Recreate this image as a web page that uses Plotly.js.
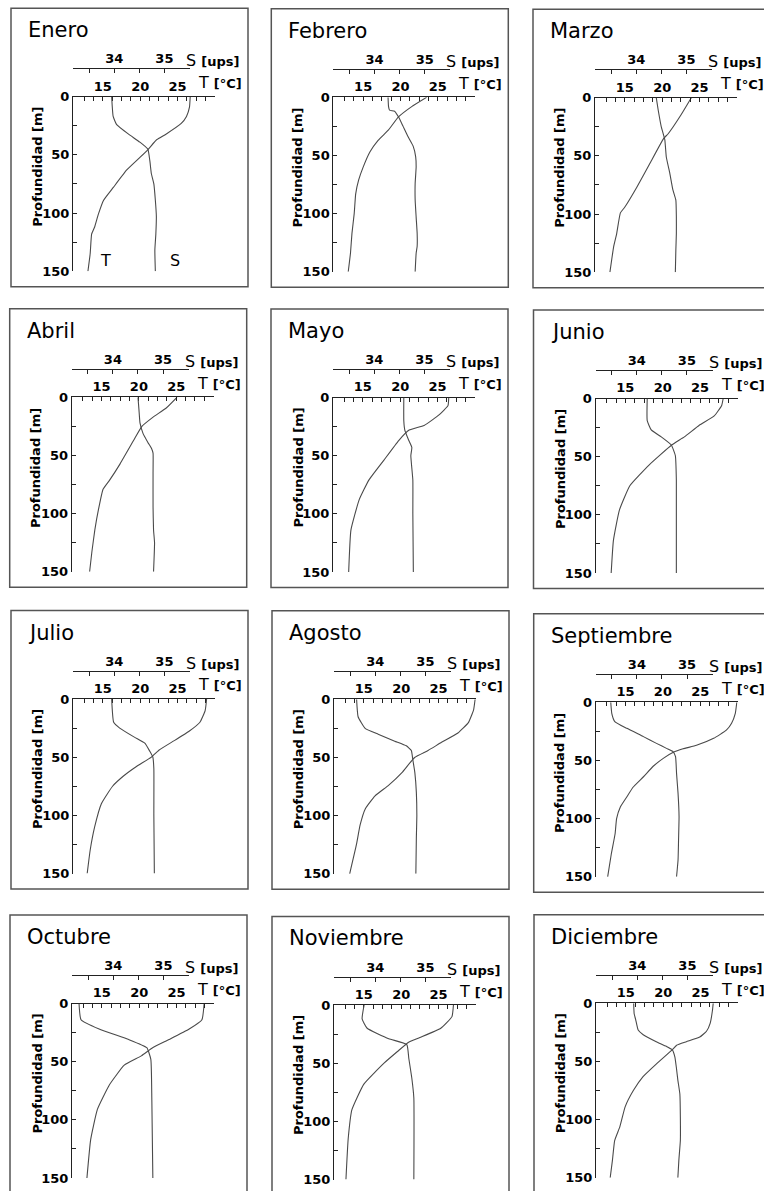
<!DOCTYPE html>
<html>
<head>
<meta charset="utf-8">
<script src="https://cdn.plot.ly/plotly-3.0.1.min.js"></script>
<style>html,body{margin:0;padding:0;background:#fff;}#chart{width:764px;height:1191px;}</style>
</head>
<body>
<div id="chart"></div>
<script>
// ---------------- DATA ----------------
const months = ['Enero','Febrero','Marzo','Abril','Mayo','Junio','Julio','Agosto','Septiembre','Octubre','Noviembre','Diciembre'];

// Temperature (T, °C) and salinity (S, ups) profiles vs depth (m)
const eneroDepthT = [0, 9, 17, 23, 32, 37, 45, 52, 63, 78, 89, 101, 112, 118, 135, 150];
const eneroT      = [26.7, 26.6, 26.2, 25.5, 23.5, 22.2, 21.1, 20.0, 18.2, 16.4, 15.1, 14.4, 13.9, 13.5, 13.3, 13.0];
const eneroDepthS = [0, 17, 24, 32, 39, 45, 55, 66, 75, 89, 103, 118, 132, 150];
const eneroS      = [33.95, 33.98, 34.05, 34.28, 34.51, 34.67, 34.71, 34.74, 34.79, 34.82, 34.84, 34.83, 34.81, 34.82];

const febreroDepthT = [0, 8, 17, 28, 37, 47, 60, 71, 83, 100, 117, 134, 150];
const febreroT      = [23.5, 21.5, 19.7, 18.4, 17.0, 15.9, 15.0, 14.4, 14.0, 13.8, 13.5, 13.3, 13.0];
const febreroDepthS = [0, 8, 11, 12, 17, 25, 34, 42, 51, 60, 74, 88, 103, 117, 128, 134, 150];
const febreroS      = [34.27, 34.28, 34.30, 34.40, 34.48, 34.57, 34.67, 34.77, 34.82, 34.83, 34.81, 34.81, 34.83, 34.85, 34.85, 34.83, 34.81];

const marzoDepthT = [0, 16, 31, 35, 56, 77, 94, 99, 117, 128, 150];
const marzoT      = [23.9, 22.4, 20.8, 20.2, 18.4, 16.6, 15.0, 14.4, 13.9, 13.5, 13.0];
const marzoDepthS = [0, 11, 25, 36, 51, 65, 79, 88, 102, 117, 131, 150];
const marzoS      = [34.40, 34.44, 34.50, 34.57, 34.60, 34.67, 34.73, 34.79, 34.80, 34.80, 34.79, 34.78];

const abrilDepthT = [0, 9, 17, 25, 37, 57, 71, 79, 96, 114, 133, 150];
const abrilT      = [25.1, 23.7, 21.9, 20.4, 19.3, 17.5, 16.1, 15.2, 14.6, 14.1, 13.7, 13.4];
const abrilDepthS = [0, 11, 22, 31, 39, 44, 48, 65, 94, 114, 125, 150];
const abrilS      = [34.50, 34.52, 34.54, 34.60, 34.70, 34.77, 34.80, 34.80, 34.80, 34.81, 34.83, 34.81];

const mayoDepthT = [0, 7, 15, 24, 28, 37, 54, 71, 88, 114, 150];
const mayoT      = [26.5, 26.4, 25.2, 23.2, 21.2, 19.8, 17.8, 15.8, 14.5, 13.4, 13.1];
const mayoDepthS = [0, 20, 28, 37, 43, 50, 71, 100, 150];
const mayoS      = [34.59, 34.59, 34.61, 34.69, 34.75, 34.73, 34.77, 34.77, 34.78];

const junioDepthT = [0, 6, 15, 23, 33, 40, 57, 75, 96, 122, 150];
const junioT      = [28.1, 27.9, 26.9, 24.9, 22.9, 21.2, 18.2, 15.6, 14.2, 13.4, 13.1];
const junioDepthS = [0, 19, 27, 33, 40, 49, 70, 150];
const junioS      = [34.21, 34.21, 34.29, 34.49, 34.69, 34.77, 34.79, 34.79];

const julioDepthT = [0, 10, 20, 28, 36, 44, 50, 58, 66, 75, 90, 110, 130, 150];
const julioT      = [28.9, 28.7, 28.0, 26.5, 24.5, 22.5, 21.5, 19.5, 17.8, 16.3, 14.8, 13.9, 13.3, 12.9];
const julioDepthS = [0, 20, 25, 33, 38, 45, 50, 60, 100, 150];
const julioS      = [33.95, 33.99, 34.11, 34.41, 34.61, 34.71, 34.77, 34.79, 34.79, 34.80];

const agostoDepthT = [0, 9, 20, 29, 37, 44, 50, 63, 74, 83, 94, 108, 125, 150];
const agostoT      = [29.9, 29.7, 29.0, 27.6, 25.4, 23.6, 21.8, 20.1, 18.3, 16.5, 15.2, 14.5, 14.0, 13.1];
const agostoDepthS = [0, 15, 25, 30, 36, 40, 44, 52, 63, 80, 100, 119, 150];
const agostoS      = [33.63, 33.66, 33.80, 34.06, 34.39, 34.62, 34.72, 34.75, 34.79, 34.82, 34.83, 34.82, 34.81];

const septiembreDepthT = [0, 9.5, 18, 24, 31, 37, 40, 43, 48, 55, 64, 73, 81, 90, 100, 113, 130, 150];
const septiembreT      = [29.9, 29.7, 29.2, 28.5, 26.8, 24.5, 22.7, 21.4, 20.1, 18.7, 17.4, 16.0, 15.2, 14.3, 13.8, 13.6, 13.1, 12.6];
const septiembreDepthS = [0, 9.5, 16.6, 22.4, 29.5, 35.3, 39.6, 42.4, 46.7, 61.1, 78.3, 98.4, 118.4, 135.6, 150];
const septiembreS      = [33.48, 33.50, 33.56, 33.80, 34.13, 34.39, 34.59, 34.72, 34.77, 34.79, 34.82, 34.84, 34.83, 34.82, 34.79];

const octubreDepthT = [0, 14, 22, 31, 38, 45, 53, 70, 91, 117, 150];
const octubreT      = [28.7, 28.4, 26.7, 24.0, 21.8, 20.3, 18.0, 16.0, 14.4, 13.5, 13.0];
const octubreDepthS = [0, 14, 22, 31, 38, 48, 83, 150];
const octubreS      = [33.32, 33.36, 33.72, 34.31, 34.67, 34.75, 34.77, 34.79];

const noviembreDepthT = [0, 10, 20, 28, 32, 40, 50, 68, 90, 115, 150];
const noviembreT      = [27.0, 26.8, 25.3, 22.5, 21.0, 19.5, 17.7, 15.0, 13.4, 12.9, 12.6];
const noviembreDepthS = [0, 12, 20, 29, 34, 46, 63, 80, 150];
const noviembreS      = [33.78, 33.74, 33.84, 34.27, 34.63, 34.67, 34.73, 34.77, 34.77];

const diciembreDepthT = [0, 6, 17, 24, 29, 33, 36, 40, 52, 63, 75, 89, 106, 118, 135, 150];
const diciembreT      = [26.7, 26.6, 26.3, 25.8, 24.9, 23.1, 21.8, 21.2, 19.1, 17.3, 16.0, 14.9, 14.2, 13.5, 13.2, 12.9];
const diciembreDepthS = [0, 9, 14, 23, 27, 33, 37, 40, 46, 55, 66, 78, 98, 118, 135, 150];
const diciembreS      = [33.93, 33.94, 33.97, 34.02, 34.12, 34.38, 34.58, 34.70, 34.75, 34.78, 34.81, 34.85, 34.86, 34.86, 34.83, 34.81];

// Tick labels
const tTickVals = [12.5, 13.75, 15, 16.25, 17.5, 18.75, 20, 21.25, 22.5, 23.75, 25, 26.25, 27.5, 28.75, 30];
const tTickText = ['', '', '15', '', '', '', '20', '', '', '', '25', '', '', '', ''];
const sTickVals = [33.5, 34, 34.5, 35, 35.5];
const sTickText = ['', '34', '', '35', ''];
const depthTickVals = [0, 25, 50, 75, 100, 125, 150];
const depthTickText = ['0', '', '50', '', '100', '', '150'];

// ---------------- LAYOUT (pixel positions of each panel's plot origin) ----------------
const W = 764, H = 1191;
const panelOrigin = [
  [73, 96.7], [333.3, 97.3], [595, 97.7],
  [71.7, 397.3], [333, 397.5], [595.5, 398.5],
  [73, 699], [334, 699.3], [595.7, 702.3],
  [72, 1003.5], [334, 1005], [596, 1003.3]
];
const T_LEN = 142, S_LEN = 117, D_LEN = 174.5;
const T_RANGE = [11, 30.02], S_RANGE = [33.18, 35.51];

const profiles = [
  [eneroDepthT, eneroT, eneroDepthS, eneroS],
  [febreroDepthT, febreroT, febreroDepthS, febreroS],
  [marzoDepthT, marzoT, marzoDepthS, marzoS],
  [abrilDepthT, abrilT, abrilDepthS, abrilS],
  [mayoDepthT, mayoT, mayoDepthS, mayoS],
  [junioDepthT, junioT, junioDepthS, junioS],
  [julioDepthT, julioT, julioDepthS, julioS],
  [agostoDepthT, agostoT, agostoDepthS, agostoS],
  [septiembreDepthT, septiembreT, septiembreDepthS, septiembreS],
  [octubreDepthT, octubreT, octubreDepthS, octubreS],
  [noviembreDepthT, noviembreT, noviembreDepthS, noviembreS],
  [diciembreDepthT, diciembreT, diciembreDepthS, diciembreS]
];

const px = v => v / W;
const py = v => 1 - v / H;

const FONT = 'DejaVu Sans, Arial, sans-serif';
const tickFont = {family: FONT, size: 13, color: '#000', weight: 'bold'};
const lineCol = '#222';
const curveCol = '#4a4a4a';

const data = [];
const layout = {
  width: W, height: H, autosize: false,
  margin: {l: 0, r: 0, t: 0, b: 0},
  paper_bgcolor: '#fff', plot_bgcolor: 'rgba(0,0,0,0)',
  showlegend: false,
  shapes: [], annotations: []
};

months.forEach((m, i) => {
  const [L, Tp] = panelOrigin[i];
  const xT = 'x' + (2 * i + 1), xS = 'x' + (2 * i + 2), yD = 'y' + (i + 1);
  const xTkey = 'xaxis' + (2 * i + 1), xSkey = 'xaxis' + (2 * i + 2), yKey = 'yaxis' + (i + 1);
  const [dT, T, dS, S] = profiles[i];

  data.push({type: 'scatter', mode: 'lines', x: T, y: dT, xaxis: xT, yaxis: yD,
             line: {color: curveCol, width: 1.1, shape: 'spline', smoothing: 0.4}, hoverinfo: 'skip'});
  data.push({type: 'scatter', mode: 'lines', x: S, y: dS, xaxis: xS, yaxis: yD,
             line: {color: curveCol, width: 1.1, shape: 'spline', smoothing: 0.4}, hoverinfo: 'skip'});

  layout[xTkey] = {
    domain: [px(L), px(L + T_LEN)], anchor: yD, side: 'top', range: T_RANGE,
    showline: true, linecolor: lineCol, linewidth: 1, mirror: false,
    ticks: 'inside', ticklen: 4, tickwidth: 1, tickcolor: lineCol,
    tickmode: 'array', tickvals: tTickVals, ticktext: tTickText, tickfont: tickFont,
    showgrid: false, zeroline: false, fixedrange: true
  };
  layout[xSkey] = {
    domain: [px(L), px(L + S_LEN)], anchor: 'free', position: py(Tp - 28.3), side: 'top', range: S_RANGE,
    showline: true, linecolor: lineCol, linewidth: 1,
    ticks: 'inside', ticklen: 4, tickwidth: 1, tickcolor: lineCol,
    tickmode: 'array', tickvals: sTickVals, ticktext: sTickText, tickfont: tickFont,
    showgrid: false, zeroline: false, fixedrange: true
  };
  layout[yKey] = {
    domain: [py(Tp + D_LEN), py(Tp)], anchor: xT, side: 'left', range: [150, 0],
    showline: true, linecolor: lineCol, linewidth: 1,
    ticks: 'inside', ticklen: 4, tickwidth: 1, tickcolor: lineCol,
    tickmode: 'array', tickvals: depthTickVals, ticktext: depthTickText, tickfont: tickFont,
    showgrid: false, zeroline: false, fixedrange: true
  };

  // panel border
  layout.shapes.push({type: 'rect', xref: 'paper', yref: 'paper',
    x0: px(L - 62), x1: px(L + 175), y0: py(Tp + 190), y1: py(Tp - 88.5),
    line: {color: '#555', width: 1.5}, fillcolor: 'rgba(0,0,0,0)', layer: 'below'});

  // month title
  layout.annotations.push({xref: 'paper', yref: 'paper', x: px(L - 47), y: py(Tp - 66.5),
    xanchor: 'left', yanchor: 'middle', showarrow: false, text: m,
    font: {family: FONT, size: 21, color: '#000'}});
  // S [ups]
  layout.annotations.push({xref: 'paper', yref: 'paper', x: px(L + 111), y: py(Tp - 36),
    xanchor: 'left', yanchor: 'middle', showarrow: false,
    text: 'S <span style="font-size:13px;font-weight:bold">[ups]</span>',
    font: {family: FONT, size: 16, color: '#000'}});
  // T [°C]
  layout.annotations.push({xref: 'paper', yref: 'paper', x: px(L + 123), y: py(Tp - 14),
    xanchor: 'left', yanchor: 'middle', showarrow: false,
    text: 'T <span style="font-size:13px;font-weight:bold">[°C]</span>',
    font: {family: FONT, size: 16, color: '#000'}});
  // depth axis title
  layout.annotations.push({xref: 'paper', yref: 'paper', x: px(L - 35.5), y: py(Tp + 70.5),
    xanchor: 'center', yanchor: 'middle', showarrow: false, textangle: -90,
    text: 'Profundidad [m]', font: {family: FONT, size: 13, color: '#000', weight: 'bold'}});
});

// Curve labels in the first panel
layout.annotations.push({xref: 'x1', yref: 'y1', x: 15.4, y: 141, showarrow: false,
  text: 'T', font: {family: FONT, size: 16, color: '#000'}});
layout.annotations.push({xref: 'x2', yref: 'y1', x: 33.18 + (24.65 - 11) * 7.47 / 50.4, y: 141, showarrow: false,
  text: 'S', font: {family: FONT, size: 16, color: '#000'}});

Plotly.newPlot('chart', data, layout, {displayModeBar: false, staticPlot: true});
</script>
</body>
</html>
